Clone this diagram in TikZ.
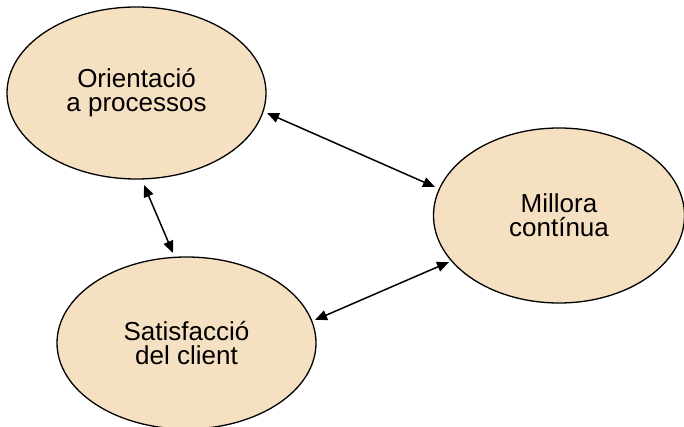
\documentclass[tikz,border=0pt]{standalone}
\usepackage{fontspec}
\setmainfont{Liberation Sans}
\usetikzlibrary{shapes.geometric,arrows.meta}
\definecolor{bubblefill}{RGB}{245,224,193}
\tikzset{
  bubble/.style={ellipse, draw=black, line width=1.3pt, fill=bubblefill,
    inner sep=0pt, align=center, font=\fontsize{26}{24}\selectfont},
  link/.style={line width=1.5pt, {Triangle[length=12pt,width=10pt]}-{Triangle[length=12pt,width=10pt]}}
}
\begin{document}
\begin{tikzpicture}[x=1pt,y=-1pt]
  \useasboundingbox (0,0) rectangle (684,427);
  % the three ideas
  \node[bubble, minimum width=259pt, minimum height=172pt] (proc) at (136.5,93) {Orientació\\a processos};
  \node[bubble, minimum width=251pt, minimum height=175pt] (mill) at (559,215.5) {Millora\\contínua};
  \node[bubble, minimum width=259pt, minimum height=172pt] (sat) at (186.5,343) {Satisfacció\\del client};
  % arrow ends, set slightly off the outlines
  \coordinate (procR) at (267,113);
  \coordinate (millL) at (435,187);
  \coordinate (procB) at (144,185);
  \coordinate (satT) at (173,253);
  \coordinate (satR) at (315,320);
  \coordinate (millB) at (449,262);
  % two-way links
  \draw[link] (procR) -- (millL);
  \draw[link] (procB) -- (satT);
  \draw[link] (satR) -- (millB);
\end{tikzpicture}
\end{document}
